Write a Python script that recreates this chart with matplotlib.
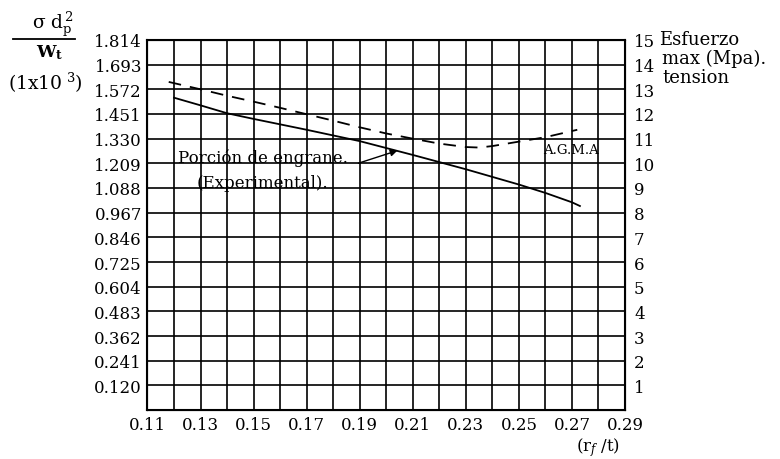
import matplotlib
matplotlib.use('Agg')
import matplotlib.pyplot as plt
from matplotlib.ticker import MultipleLocator

plt.rcParams['font.family'] = ['DejaVu Serif']
plt.rcParams['mathtext.fontset'] = 'dejavuserif'

# x = r_f / t ; y = esfuerzo max (Mpa)
x_exp = [0.120, 0.130, 0.140, 0.150, 0.160, 0.170, 0.180, 0.190, 0.200, 0.210,
         0.220, 0.230, 0.240, 0.250, 0.260, 0.270, 0.273]
y_exp = [12.66, 12.35, 12.03, 11.80, 11.58, 11.36, 11.13, 10.90, 10.62, 10.34,
         10.05, 9.76, 9.45, 9.14, 8.80, 8.42, 8.27]

x_agma = [0.118, 0.130, 0.140, 0.150, 0.160, 0.170, 0.180, 0.190, 0.200, 0.210,
          0.220, 0.230, 0.235, 0.240, 0.250, 0.260, 0.272]
y_agma = [13.30, 13.00, 12.74, 12.50, 12.25, 11.99, 11.73, 11.46, 11.21, 11.00,
          10.80, 10.66, 10.64, 10.70, 10.88, 11.06, 11.36]

left_labels = ['0.120', '0.241', '0.362', '0.483', '0.604', '0.725', '0.846', '0.967',
               '1.088', '1.209', '1.330', '1.451', '1.572', '1.693', '1.814']
right_ticks = list(range(1, 16))
x_ticks = [0.11, 0.13, 0.15, 0.17, 0.19, 0.21, 0.23, 0.25, 0.27, 0.29]

fig = plt.figure(figsize=(7.8, 4.6), dpi=100)
ax = fig.add_axes([0.1891, 0.1065, 0.8013 - 0.1891, 0.9109 - 0.1065])

ax.plot(x_exp, y_exp, color='black', linewidth=1.3)
ax.plot(x_agma, y_agma, color='black', linewidth=1.3, linestyle=(0, (7, 5)))

ax.set_xlim(0.11, 0.29)
ax.set_ylim(0, 15)
ax.set_xticks(x_ticks)
ax.set_xticklabels(['%.2f' % v for v in x_ticks])
ax.xaxis.set_minor_locator(MultipleLocator(0.01))
ax.set_yticks(right_ticks)
ax.set_yticklabels(left_labels)
ax.grid(True, which='both', color='black', linewidth=1.2)
ax.tick_params(axis='both', which='both', length=0, labelsize=12)
ax.tick_params(axis='x', pad=4.5)
ax.tick_params(axis='y', pad=4)
for s in ax.spines.values():
    s.set_linewidth(1.5)

ax2 = ax.twinx()
ax2.set_ylim(0, 15)
ax2.set_yticks(right_ticks)
ax2.set_yticklabels([str(v) for v in right_ticks])
ax2.tick_params(axis='y', length=0, labelsize=12, pad=6.5)

# annotations
ax.text(0.1215, 10.26, 'Porción de engrane.', fontsize=12, va='center', ha='left')
ax.text(0.1287, 9.24, '(Experimental).', fontsize=12, va='center', ha='left')
ax.annotate('', xy=(0.2052, 10.55), xytext=(0.1885, 9.97),
            arrowprops=dict(arrowstyle='-|>', color='black', lw=1.0, mutation_scale=10))
ax.text(0.2696, 10.58, 'A.G.M.A', fontsize=9.5, va='center', ha='center')

# axis captions
fig.text(53 / 780, 1 - 24 / 460, r'$\mathregular{σ\ d_p^{\,2}}$', fontsize=13.5,
         ha='center', va='center')
fig.add_artist(plt.Line2D([13 / 780, 75 / 780], [1 - 40 / 460, 1 - 40 / 460],
                          color='black', linewidth=1.3))
fig.text(50 / 780, 1 - 53 / 460, r'$\mathregular{W_t}$', fontsize=12.5,
         ha='center', va='center', fontweight='bold')
fig.text(45 / 780, 1 - 83 / 460, r'(1x10$^{\ 3}$)', fontsize=13.5, ha='center', va='center')

fig.text(659 / 780, 1 - 40 / 460, 'Esfuerzo', fontsize=13, ha='left', va='center')
fig.text(662 / 780, 1 - 59 / 460, 'max (Mpa).', fontsize=13, ha='left', va='center')
fig.text(662 / 780, 1 - 78 / 460, 'tension', fontsize=13, ha='left', va='center')
fig.text(598 / 780, 1 - 448 / 460, r'(r$_f$ /t)', fontsize=12, ha='center', va='center')

fig.savefig('out.png', dpi=100)
